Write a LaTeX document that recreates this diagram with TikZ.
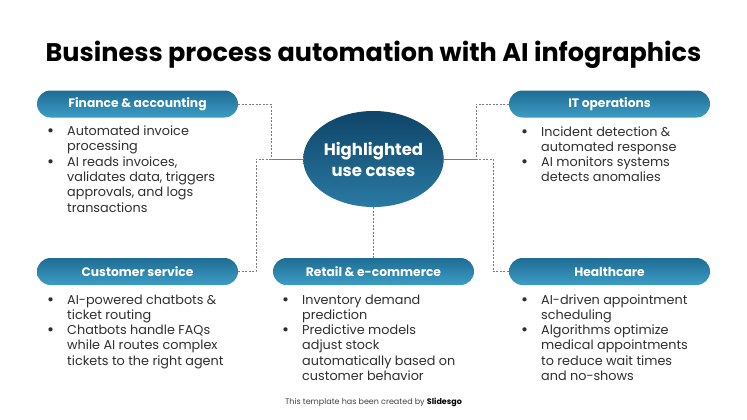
\documentclass[tikz,border=0pt]{standalone}
\usepackage{fontspec}
\setmainfont{Poppins}
\usetikzlibrary{shapes.geometric}
\definecolor{txt}{HTML}{2E2E2E}
\definecolor{pilltop}{HTML}{1E6C94}
\definecolor{pillbot}{HTML}{3D9DC4}
\definecolor{hubtop}{HTML}{0E4468}
\definecolor{hubbot}{HTML}{2A7AA3}
\definecolor{conn}{HTML}{7A7A7A}
\tikzset{
  pill/.style={rectangle, rounded corners=13.5pt, minimum width=201pt, minimum height=27pt,
    inner sep=0pt, top color=pilltop, bottom color=pillbot, text=white,
    font=\fontsize{12.3}{14}\selectfont\bfseries},
  hubstyle/.style={ellipse, minimum width=137pt, minimum height=96pt, inner sep=0pt,
    top color=hubtop, bottom color=hubbot, text=white, align=center,
    font=\fontsize{16.5}{21}\selectfont\bfseries},
  blist/.style={anchor=base west, inner sep=0pt, text=txt},
  connector/.style={draw=conn, line width=0.8pt, dash pattern=on 2pt off 1.5pt},
}
\newcommand{\bdot}{{\fontsize{17}{15}\selectfont\raisebox{-1.2pt}{\textbullet}}}
\newcommand{\blk}[1]{\fontsize{12.8}{15.3}\selectfont\begin{tabular}[t]{@{}p{20pt}@{}l@{}}#1\end{tabular}}
\begin{document}
\begin{tikzpicture}[x=1pt,y=-1pt]
\useasboundingbox (0,0) rectangle (747,420);
% title
\node[font=\fontsize{25.5}{28}\selectfont\bfseries, text=black] (title) at (373.5,55) {Business process automation with AI infographics};
% hub
\node[hubstyle] (hub) at (373.5,159) {Highlighted\\use cases};
% pills
\node[pill] (fin) at (137.5,104) {Finance \& accounting};
\node[pill] (it) at (609.5,104) {IT operations};
\node[pill] (cs) at (137.5,271.5) {Customer service};
\node[pill] (rt) at (373.5,271.5) {Retail \& e-commerce};
\node[pill] (hc) at (609.5,271.5) {Healthcare};
% connector corners
\coordinate (k1) at (271,104);
\coordinate (k2) at (256,271.5);
\coordinate (k3) at (476,104);
\coordinate (k4) at (493,271.5);
\draw[connector] (fin.east) -- (k1) |- (hub.west);
\draw[connector] (cs.east) -- (k2) |- (hub.west);
\draw[connector] (it.west) -- (k3) |- (hub.east);
\draw[connector] (hc.west) -- (k4) |- (hub.east);
\draw[connector] (hub.south) -- (rt.north);
% bullet lists
\node[blist] (finl) at (47,135.5) {\blk{\bdot & Automated invoice\\ & processing\\ \bdot & AI reads invoices,\\ & validates data, triggers\\ & approvals, and logs\\ & transactions}};
\node[blist] (itl) at (521,136) {\blk{\bdot & Incident detection \&\\ & automated response\\ \bdot & AI monitors systems\\ & detects anomalies}};
\node[blist] (csl) at (47,304) {\blk{\bdot & AI-powered chatbots \&\\ & ticket routing\\ \bdot & Chatbots handle FAQs\\ & while AI routes complex\\ & tickets to the right agent}};
\node[blist] (rtl) at (282,304) {\blk{\bdot & Inventory demand\\ & prediction\\ \bdot & Predictive models\\ & adjust stock\\ & automatically based on\\ & customer behavior}};
\node[blist] (hcl) at (521,304) {\blk{\bdot & AI-driven appointment\\ & scheduling\\ \bdot & Algorithms optimize\\ & medical appointments\\ & to reduce wait times\\ & and no-shows}};
% footer
\node[font=\fontsize{8}{9}\selectfont, text=black!75] (foot) at (373.5,402) {This template has been created by \textcolor{black}{\bfseries Slidesgo}};
\end{tikzpicture}
\end{document}
